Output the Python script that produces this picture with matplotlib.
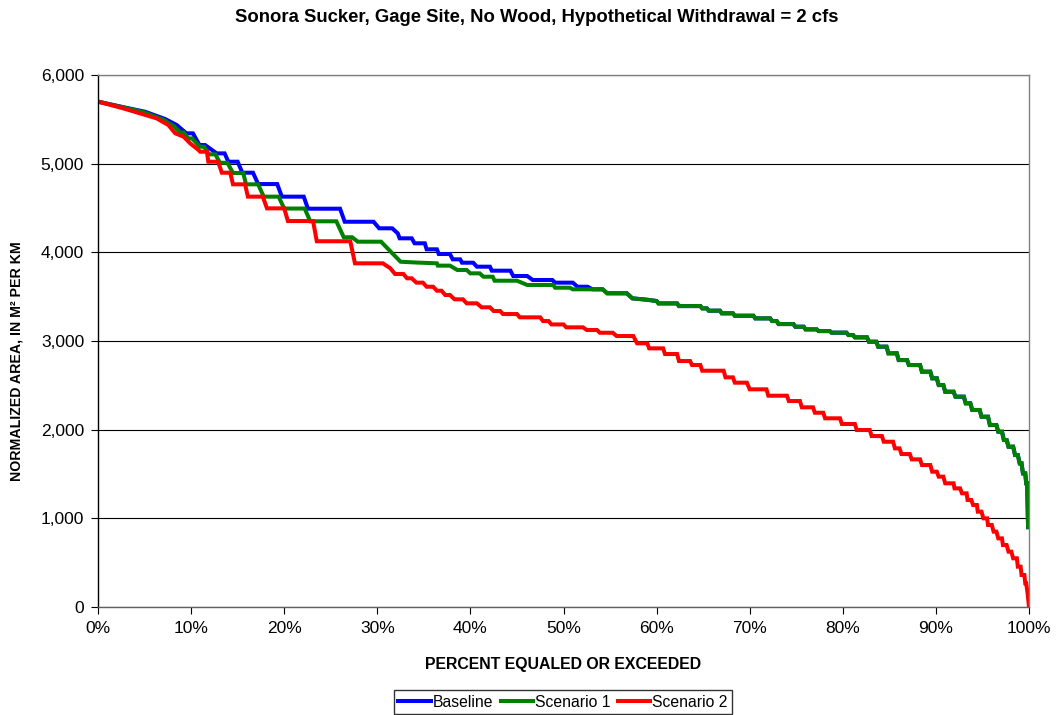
import matplotlib
matplotlib.use("Agg")
import matplotlib.pyplot as plt
from matplotlib.ticker import FuncFormatter, MultipleLocator

plt.rcParams["font.family"] = ["Liberation Sans", "DejaVu Sans"]

title = "Sonora Sucker, Gage Site, No Wood, Hypothetical Withdrawal = 2 cfs"
series_names = ["Baseline", "Scenario 1", "Scenario 2"]

# percent equaled or exceeded / normalized area
baseline_pct = [0, 3.3, 5.05, 7.2, 8.45, 9.5, 10.2, 10.9, 11.5, 12.75, 13.6, 14.0, 15.0,
                15.5, 16.65, 17.2, 19.25, 19.75, 22.1, 22.55, 26.0, 26.5, 29.6, 30.2, 31.6,
                32.2, 32.4, 33.7, 34.0, 35.1, 35.3, 36.4, 36.6, 37.8, 38.1, 38.9, 39.1, 40.3,
                40.7, 42.1, 42.3, 44.3, 44.6, 46.1, 46.7, 48.8, 49.1, 51.0, 51.5, 52.6, 53.1]
baseline_val = [5700, 5624, 5586, 5504, 5436, 5342, 5342, 5210, 5210, 5116, 5116, 5022, 5022,
                4898, 4898, 4770, 4770, 4628, 4628, 4492, 4492, 4345, 4345, 4271, 4271,
                4214, 4158, 4158, 4102, 4102, 4034, 4034, 3981, 3981, 3921, 3921, 3883, 3883,
                3838, 3838, 3793, 3793, 3733, 3733, 3688, 3688, 3658, 3658, 3612, 3612, 3583]

scen1_pct = [0, 3.3, 5.0, 7.0, 8.2, 8.8, 9.2, 9.7, 10.1, 10.95, 11.4, 11.9, 12.6, 13.1, 13.9,
             14.5, 15.6, 15.9, 17.2, 17.8, 19.4, 20.0, 22.2, 22.8, 25.6, 26.4, 27.3, 27.9,
             30.4, 32.5, 34.2, 36.4, 36.5, 37.8, 38.6, 39.6, 40.0, 41.0, 41.4, 42.4, 42.6,
             45.0, 46.1, 48.9, 49.1, 50.7, 51.0]
scen1_val = [5700, 5620, 5578, 5496, 5420, 5352, 5352, 5285, 5285, 5191, 5191, 5105, 5105,
             5010, 5010, 4895, 4895, 4767, 4767, 4628, 4628, 4494, 4494, 4350, 4350, 4170,
             4170, 4120, 4120, 3894, 3885, 3876, 3850, 3850, 3801, 3801, 3763, 3763, 3725,
             3725, 3680, 3680, 3632, 3632, 3601, 3601, 3583]

# part where Baseline and Scenario 1 coincide
shared_pct = [54.2, 54.7, 56.8, 57.4, 59.0, 60.0, 60.2, 62.2, 62.4, 64.7, 64.9, 65.4, 65.6,
              66.8, 67.0, 68.2, 68.4, 70.4, 70.6, 72.2, 72.4, 72.9, 73.1, 74.7, 74.9, 75.8,
              76.0, 77.2, 77.4, 78.6, 78.8, 80.4, 80.6, 81.1, 81.3, 82.6, 82.8, 83.6, 83.8,
              84.7, 84.9, 85.8, 86.0, 86.9, 87.1, 88.3, 88.5, 89.4, 89.6, 90.1, 90.3, 90.8,
              91.0, 91.9, 92.1, 93.0, 93.2, 93.7, 93.9, 94.7, 94.9, 95.6, 95.8, 96.5, 96.7,
              97.1, 97.3, 97.6, 97.8, 98.3, 98.5, 98.8, 99.0, 99.2, 99.35, 99.6, 99.7, 99.8,
              99.9, 100]
shared_val = [3583, 3538, 3538, 3481, 3465, 3451, 3424, 3424, 3394, 3394, 3368, 3368, 3342,
              3342, 3312, 3312, 3285, 3285, 3255, 3255, 3225, 3225, 3191, 3191, 3161, 3161,
              3131, 3131, 3112, 3112, 3094, 3094, 3067, 3067, 3041, 3041, 2992, 2992, 2936,
              2936, 2861, 2861, 2785, 2785, 2729, 2729, 2654, 2654, 2579, 2579, 2503, 2503,
              2428, 2428, 2372, 2372, 2297, 2297, 2222, 2222, 2146, 2146, 2052, 2052, 1977,
              1977, 1883, 1883, 1808, 1808, 1714, 1714, 1620, 1620, 1507, 1507, 1395, 1395,
              900, 900]

scen2_pct = [0, 2.7, 4.5, 6.3, 7.55, 8.3, 9.2, 9.9, 10.8, 10.96, 11.7, 11.85, 12.9, 13.3,
             14.2, 14.5, 15.8, 16.1, 17.7, 18.15, 20.0, 20.4, 23.1, 23.5, 27.1, 27.6, 30.6,
             31.4, 31.9, 32.8, 33.2, 33.7, 34.2, 34.9, 35.3, 36.0, 36.4, 36.9, 37.3, 37.8,
             38.3, 39.2, 39.6, 40.7, 41.2, 42.1, 42.5, 43.2, 43.5, 45.0, 45.3, 47.5, 47.8,
             48.4, 48.7, 50.0, 50.3, 52.1, 52.5, 53.6, 53.9, 55.3, 55.7, 57.5, 57.9, 59.0,
             59.2, 60.7, 60.9, 62.2, 62.4, 63.6, 63.8, 64.7, 64.9, 67.2, 67.4, 68.2, 68.4,
             69.7, 70.0, 71.8, 72.0, 74.0, 74.2, 75.4, 75.6, 76.8, 77.0, 77.9, 78.1, 79.7,
             79.9, 81.3, 81.5, 82.9, 83.1, 84.2, 84.4, 85.4, 85.6, 86.1, 86.3, 87.2, 87.4,
             88.3, 88.5, 89.4, 89.6, 90.1, 90.3, 90.8, 91.0, 91.9, 92.0, 92.6, 92.8, 93.3,
             93.4, 93.8, 94.0, 94.4, 94.5, 94.9, 95.1, 95.5, 95.6, 96.0, 96.2, 96.5, 96.7,
             97.1, 97.2, 97.6, 97.8, 98.1, 98.3, 98.7, 98.8, 99.1, 99.2, 99.5, 99.6, 99.7,
             99.85, 100]
scen2_val = [5700, 5624, 5568, 5511, 5436, 5342, 5304, 5229, 5154, 5135, 5135, 5022, 5022,
             4898, 4898, 4767, 4767, 4628, 4628, 4496, 4496, 4353, 4353, 4125, 4125, 3876,
             3876, 3820, 3756, 3756, 3707, 3707, 3658, 3658, 3612, 3612, 3567, 3567, 3519,
             3519, 3470, 3470, 3425, 3425, 3380, 3380, 3338, 3338, 3304, 3304, 3267, 3267,
             3225, 3225, 3187, 3187, 3154, 3154, 3124, 3124, 3093, 3093, 3056, 3056, 2974,
             2974, 2917, 2917, 2853, 2853, 2774, 2774, 2729, 2729, 2665, 2665, 2590, 2590,
             2530, 2530, 2455, 2455, 2383, 2383, 2323, 2323, 2252, 2252, 2191, 2191, 2128,
             2128, 2064, 2064, 1996, 1996, 1928, 1928, 1864, 1864, 1789, 1789, 1725, 1725,
             1665, 1665, 1601, 1601, 1526, 1526, 1470, 1470, 1395, 1395, 1338, 1338, 1282,
             1282, 1207, 1207, 1150, 1150, 1075, 1075, 1000, 1000, 925, 925, 850, 850, 774,
             774, 699, 699, 624, 624, 549, 549, 455, 455, 361, 361, 267, 267, 154, 0]

colors = ["#0000FF", "#008000", "#FF0000"]

fig = plt.figure(figsize=(10.56, 7.15), dpi=100)
ax = fig.add_axes([98 / 1056, 1 - 607 / 715, (1029 - 98) / 1056, (607 - 75) / 715])

curves = [
    (baseline_pct + shared_pct, baseline_val + shared_val),
    (scen1_pct + shared_pct, scen1_val + shared_val),
    (scen2_pct, scen2_val),
]
for (x, y), name, c in zip(curves, series_names, colors):
    ax.plot(x, y, color=c, lw=2.9, label=name, solid_joinstyle="miter")

ax.set_xlim(0, 100)
ax.set_ylim(0, 6000)
ax.xaxis.set_major_locator(MultipleLocator(10))
ax.yaxis.set_major_locator(MultipleLocator(1000))
ax.xaxis.set_major_formatter(FuncFormatter(lambda v, p: f"{v:.0f}%"))
ax.yaxis.set_major_formatter(FuncFormatter(lambda v, p: f"{v:,.0f}"))
ax.grid(axis="y", color="black", lw=0.8)
ax.set_axisbelow(True)
ax.tick_params(labelsize=12.5, length=5, width=0.8, color="black", pad=5)

for side in ["top", "right"]:
    ax.spines[side].set_color("#808080")
ax.spines["left"].set_color("black")
ax.spines["bottom"].set_color("#606060")
for s in ax.spines.values():
    s.set_linewidth(1.0)

fig.text(563 / 1056, 1 - 664 / 715, "PERCENT EQUALED OR EXCEEDED", fontsize=11.4,
         fontweight="bold", ha="center", va="center")
fig.text(17 / 1056, 1 - 361 / 715, "NORMALIZED AREA, IN M\u00b2 PER KM", fontsize=10.2,
         fontweight="bold", ha="center", va="center", rotation=90)
fig.text(537 / 1056, 1 - 18 / 715, title, fontsize=13.3, fontweight="bold",
         ha="center", va="center")

leg = fig.legend(loc="upper center", bbox_to_anchor=(563 / 1056, 1 - 690 / 715), ncol=3,
                 fontsize=11.3, frameon=True, fancybox=False, edgecolor="black",
                 handlelength=2.05, handletextpad=0.15, columnspacing=0.45, borderpad=0.3,
                 borderaxespad=0)
leg.get_frame().set_linewidth(1.0)

fig.savefig("out.png", dpi=100)
